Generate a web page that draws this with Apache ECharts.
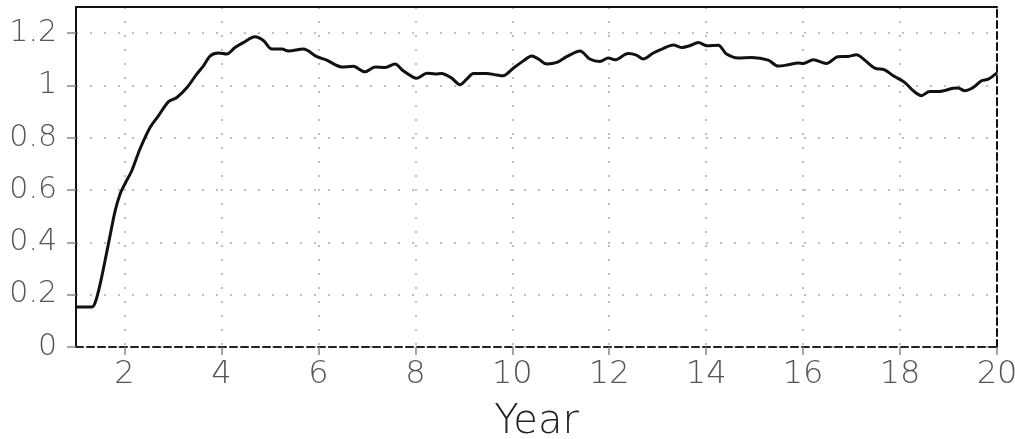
<!DOCTYPE html>
<html><head><meta charset="utf-8">
<script src="https://cdn.jsdelivr.net/npm/echarts@6/dist/echarts.min.js"></script>
<style>html,body{margin:0;padding:0;background:#fff}#c{width:1015px;height:439px}</style>
</head><body><div id="c"></div>
<script>
const years = [1.0,1.33,1.40,1.50,1.60,1.71,1.81,1.91,2.01,2.15,2.32,2.53,2.70,2.91,3.08,3.29,3.49,3.63,3.77,3.94,4.11,4.28,4.45,4.69,4.87,5.04,5.25,5.38,5.69,5.97,6.17,6.48,6.72,6.96,7.17,7.38,7.58,7.75,7.96,8.03,8.24,8.41,8.54,8.75,8.92,9.06,9.20,9.47,9.68,9.81,10.02,10.23,10.40,10.54,10.71,10.92,11.12,11.40,11.60,11.81,11.98,12.12,12.39,12.56,12.70,12.91,13.11,13.32,13.49,13.66,13.84,14.01,14.25,14.42,14.66,14.94,15.28,15.48,15.69,15.90,16.00,16.21,16.48,16.72,16.93,17.10,17.27,17.48,17.68,17.86,18.10,18.27,18.44,18.61,18.81,19.09,19.20,19.33,19.51,19.68,19.82,20.0];
const values = [0.153,0.153,0.172,0.242,0.331,0.433,0.522,0.585,0.624,0.674,0.757,0.840,0.884,0.938,0.954,0.992,1.043,1.075,1.113,1.124,1.120,1.145,1.164,1.186,1.171,1.139,1.139,1.132,1.139,1.110,1.097,1.071,1.073,1.052,1.071,1.069,1.082,1.056,1.031,1.028,1.047,1.044,1.046,1.028,1.003,1.024,1.046,1.046,1.040,1.037,1.066,1.094,1.113,1.101,1.082,1.088,1.110,1.132,1.101,1.092,1.105,1.098,1.122,1.116,1.101,1.124,1.141,1.155,1.145,1.152,1.164,1.152,1.154,1.120,1.105,1.107,1.097,1.074,1.079,1.086,1.084,1.098,1.084,1.110,1.111,1.117,1.097,1.066,1.060,1.037,1.011,0.980,0.961,0.977,0.977,0.989,0.990,0.980,0.992,1.018,1.024,1.048];
const xTicks = [2,4,6,8,10,12,14,16,18,20];
const yTicks = [0,0.2,0.4,0.6,0.8,1,1.2];
const xName = 'Year';

const chart = echarts.init(document.getElementById('c'));
const lblFont = {fontFamily:'DejaVu Sans', fontWeight:200, color:'#555'};
chart.setOption({
  animation:false,
  grid:{left:76,right:18,top:7,bottom:92, outerBoundsMode:'none', containLabel:false},
  xAxis:[{
    type:'value', min:1, max:20, position:'bottom',
    name:xName, nameLocation:'middle', nameGap:56,
    nameTextStyle:{fontFamily:'DejaVu Sans', fontWeight:200, fontSize:40, color:'#222'},
    axisLine:{lineStyle:{color:'#222', width:2, type:[7,4]}},
    axisTick:{customValues:xTicks, length:8, inside:false, lineStyle:{color:'#888', width:1.5}},
    axisLabel:{customValues:xTicks, fontSize:32, margin:12, ...lblFont},
    splitLine:{show:true, lineStyle:{color:'#aaa', width:1.5, type:[2,12]}}
  },{
    type:'value', min:1, max:20, position:'top',
    axisLine:{show:true, onZero:false, lineStyle:{color:'#111', width:2}},
    axisTick:{show:false}, axisLabel:{show:false}, splitLine:{show:false}
  }],
  yAxis:[{
    type:'value', min:0, max:1.3, interval:0.2, position:'left',
    axisLine:{show:true, onZero:false, lineStyle:{color:'#111', width:2}},
    axisTick:{show:true, customValues:yTicks, length:9, lineStyle:{color:'#888', width:1.5}},
    axisLabel:{customValues:yTicks, fontSize:30, margin:19, ...lblFont},
    splitLine:{show:true, lineStyle:{color:'#aaa', width:1.5, type:[2,12]}}
  },{
    type:'value', min:0, max:1.3, position:'right',
    axisLine:{show:true, onZero:false, lineStyle:{color:'#111', width:2, type:[7,4]}},
    axisTick:{show:false}, axisLabel:{show:false}, splitLine:{show:false}
  }],
  series:[{
    type:'line', xAxisIndex:0, yAxisIndex:0, showSymbol:false, smooth:0.3,
    lineStyle:{color:'#111', width:3},
    data: years.map((x,i)=>[x, values[i]])
  }]
});
</script></body></html>
